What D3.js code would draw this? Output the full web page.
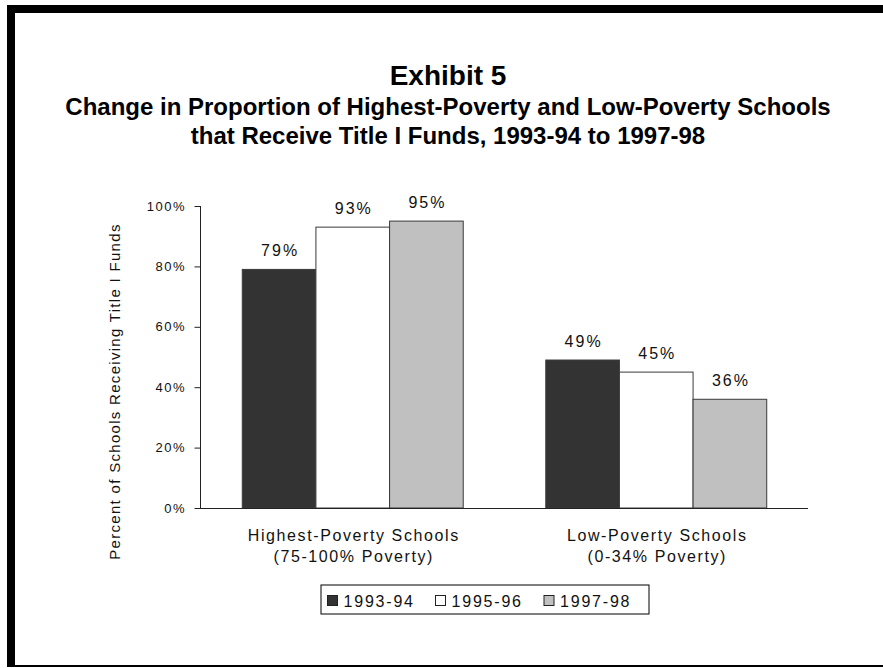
<!DOCTYPE html>
<html>
<head>
<meta charset="utf-8">
<script src="https://cdn.jsdelivr.net/npm/d3@7"></script>
<style>
  html, body { margin: 0; padding: 0; background: #fff; }
  svg { display: block; font-family: "Liberation Sans", Arial, Helvetica, sans-serif; }
</style>
</head>
<body>
<svg id="chart" width="883" height="668"></svg>
<script>
// ---- data ----
const categories = ["Highest-Poverty Schools", "Low-Poverty Schools"];
const categorySub = ["(75-100% Poverty)", "(0-34% Poverty)"];
const series = ["1993-94", "1995-96", "1997-98"];
const values1993 = [0.79, 0.49];
const values1995 = [0.93, 0.45];
const values1997 = [0.95, 0.36];
const yTicks = [0, 0.2, 0.4, 0.6, 0.8, 1.0];
const titleLines = ["Change in Proportion of Highest-Poverty and Low-Poverty Schools",
                    "that Receive Title I Funds, 1993-94 to 1997-98"];
const seriesValues = [values1993, values1995, values1997];
const colors = ["#333333", "#ffffff", "#c0c0c0"];

const svg = d3.select("#chart");

// ---- frame ----
svg.append("rect").attr("x", 7).attr("y", 5).attr("width", 900).attr("height", 8).attr("fill", "#000");
svg.append("rect").attr("x", 7).attr("y", 5).attr("width", 8).attr("height", 662).attr("fill", "#000");
svg.append("rect").attr("x", 7).attr("y", 665).attr("width", 900).attr("height", 2).attr("fill", "#000");

// ---- titles ----
svg.append("text").attr("x", 448).attr("y", 85).attr("text-anchor", "middle")
  .attr("font-size", 28).attr("font-weight", "bold").text("Exhibit 5");
titleLines.forEach((t, i) => {
  svg.append("text").attr("x", 448).attr("y", 114.5 + i * 29).attr("text-anchor", "middle")
    .attr("font-size", 24).attr("font-weight", "bold").text(t);
});

// ---- scales ----
const x0 = d3.scaleBand().domain(categories).range([201, 808]).paddingInner(0.272).paddingOuter(0.136);
const x1 = d3.scaleBand().domain(series).range([0, x0.bandwidth()]).padding(0);
const y = d3.scaleLinear().domain([0, 1]).range([508, 206]);

// ---- bars ----
const data = [];
categories.forEach((c, ci) => series.forEach((s, si) => data.push({c, s, si, v: seriesValues[si][ci]})));

svg.append("g").selectAll("rect").data(data).join("rect")
  .attr("x", d => x0(d.c) + x1(d.s))
  .attr("y", d => y(d.v))
  .attr("width", x1.bandwidth())
  .attr("height", d => y(0) - y(d.v))
  .attr("fill", d => colors[d.si])
  .attr("stroke", "#3a3a3a").attr("stroke-width", 1);

svg.append("g").selectAll("text").data(data).join("text")
  .attr("x", d => x0(d.c) + x1(d.s) + x1.bandwidth() / 2 + 1)
  .attr("y", d => y(d.v) - 13)
  .attr("text-anchor", "middle")
  .attr("font-size", 16).attr("letter-spacing", 2).attr("fill", "#111")
  .text(d => Math.round(d.v * 100) + "%");

// ---- axes ----
const yAxis = d3.axisLeft(y).tickValues(yTicks).tickFormat(d3.format(".0%")).tickSize(6).tickPadding(8.5);
const gy = svg.append("g").attr("transform", "translate(200.5,0)").call(yAxis);
gy.select(".domain").attr("stroke", "#222").attr("d", "M0,206V508");
gy.selectAll(".tick line").attr("stroke", "#222");
gy.selectAll(".tick text").attr("font-size", 13).attr("letter-spacing", 1.5).attr("fill", "#111")
  .attr("font-family", "Liberation Sans, Arial, sans-serif");

svg.append("line").attr("x1", 200).attr("x2", 808).attr("y1", 508.5).attr("y2", 508.5).attr("stroke", "#222");

// ---- category labels ----
categories.forEach((c, i) => {
  const cx = x0(c) + x0.bandwidth() / 2 + 1;
  svg.append("text").attr("x", cx).attr("y", 540.5).attr("text-anchor", "middle")
    .attr("font-size", 16).attr("letter-spacing", 1.6).attr("fill", "#111").text(c);
  svg.append("text").attr("x", cx).attr("y", 561.5).attr("text-anchor", "middle")
    .attr("font-size", 16).attr("letter-spacing", 1.6).attr("fill", "#111").text(categorySub[i]);
});

// ---- y title ----
svg.append("text").attr("transform", "translate(120,391.5) rotate(-90)").attr("text-anchor", "middle")
  .attr("font-size", 15).attr("letter-spacing", 1.3).attr("fill", "#111")
  .text("Percent of Schools Receiving Title I Funds");

// ---- legend ----
const lg = svg.append("g");
lg.append("rect").attr("x", 321).attr("y", 585).attr("width", 328).attr("height", 29)
  .attr("fill", "#fff").attr("stroke", "#000").attr("stroke-width", 1);
const legX = [327.5, 435.5, 544];
series.forEach((s, i) => {
  lg.append("rect").attr("x", legX[i]).attr("y", 595.5).attr("width", 10).attr("height", 10)
    .attr("fill", colors[i]).attr("stroke", "#222").attr("stroke-width", 1);
  lg.append("text").attr("x", legX[i] + 16).attr("y", 606.5)
    .attr("font-size", 16).attr("letter-spacing", 1.8).attr("fill", "#111").text(s);
});
</script>
</body>
</html>
